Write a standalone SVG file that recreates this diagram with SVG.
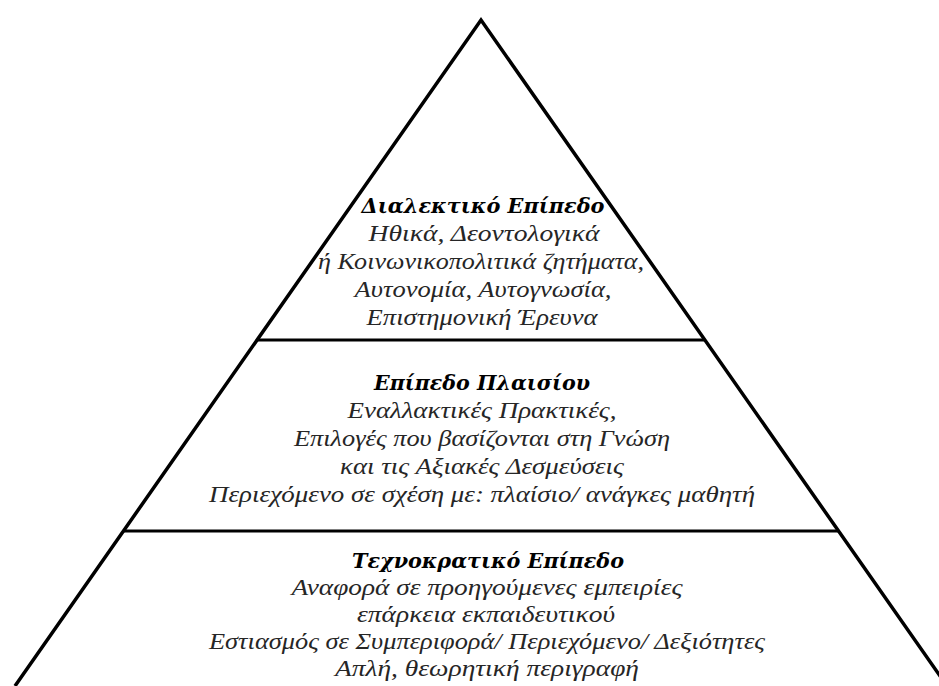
<svg xmlns="http://www.w3.org/2000/svg" width="939" height="686" viewBox="0 0 939 686">
<style>
.edge{fill:none;stroke:#000;stroke-width:3.5;stroke-linejoin:miter}
.div{stroke:#000;stroke-width:3}
.t{font-family:"DejaVu Serif","Liberation Serif",serif;font-weight:bold;font-style:italic;font-size:20px;fill:#000;text-anchor:middle}
.b{font-family:"Liberation Serif","DejaVu Serif",serif;font-style:italic;font-size:23.5px;fill:#262626;text-anchor:middle}
</style>
<rect width="939" height="686" fill="#fff"/>
<g id="connectors">
<polyline class="edge" points="15,686 481,20 947,686"/>
<line class="div" x1="257" y1="340" x2="705" y2="340"/>
<line class="div" x1="123" y1="531" x2="839" y2="531"/>
</g>
<g id="level-dialectic">
<text class="t" x="483" y="213" textLength="243" lengthAdjust="spacingAndGlyphs">Διαλεκτικό Επίπεδο</text>
<text class="b" x="484" y="241" textLength="231" lengthAdjust="spacingAndGlyphs">Ηθικά, Δεοντολογικά</text>
<text class="b" x="481" y="269" textLength="326" lengthAdjust="spacingAndGlyphs">ή Κοινωνικοπολιτικά ζητήματα,</text>
<text class="b" x="483" y="297" textLength="257" lengthAdjust="spacingAndGlyphs">Αυτονομία, Αυτογνωσία,</text>
<text class="b" x="482" y="325" textLength="231" lengthAdjust="spacingAndGlyphs">Επιστημονική Έρευνα</text>
</g>
<g id="level-context">
<text class="t" x="482" y="390" textLength="216" lengthAdjust="spacingAndGlyphs">Επίπεδο Πλαισίου</text>
<text class="b" x="482" y="418" textLength="269" lengthAdjust="spacingAndGlyphs">Εναλλακτικές Πρακτικές,</text>
<text class="b" x="482" y="446" textLength="376" lengthAdjust="spacingAndGlyphs">Επιλογές που βασίζονται στη Γνώση</text>
<text class="b" x="482" y="474" textLength="284" lengthAdjust="spacingAndGlyphs">και τις Αξιακές Δεσμεύσεις</text>
<text class="b" x="482" y="502" textLength="546" lengthAdjust="spacingAndGlyphs">Περιεχόμενο σε σχέση με: πλαίσιο/ ανάγκες μαθητή</text>
</g>
<g id="level-technocratic">
<text class="t" x="488" y="568" textLength="272" lengthAdjust="spacingAndGlyphs">Τεχνοκρατικό Επίπεδο</text>
<text class="b" x="487" y="595" textLength="391" lengthAdjust="spacingAndGlyphs">Αναφορά σε προηγούμενες εμπειρίες</text>
<text class="b" x="486" y="622" textLength="258" lengthAdjust="spacingAndGlyphs">επάρκεια εκπαιδευτικού</text>
<text class="b" x="487" y="649" textLength="556" lengthAdjust="spacingAndGlyphs">Εστιασμός σε Συμπεριφορά/ Περιεχόμενο/ Δεξιότητες</text>
<text class="b" x="487" y="676" textLength="304" lengthAdjust="spacingAndGlyphs">Απλή, θεωρητική περιγραφή</text>
</g>
</svg>
